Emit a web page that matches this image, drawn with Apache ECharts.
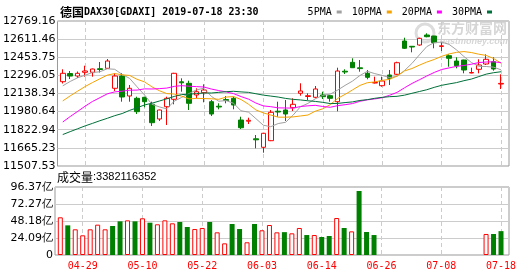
<!DOCTYPE html>
<html><head><meta charset="utf-8">
<script src="https://cdn.jsdelivr.net/npm/echarts@6/dist/echarts.min.js"></script>
<style>html,body{margin:0;padding:0;background:#fff}#c{width:530px;height:276px}</style>
</head><body><div id="c"></div>
<script>
const dates = ['04-24','04-25','04-26','04-29','04-30','05-02','05-03','05-06','05-07','05-08','05-09','05-10','05-13','05-14','05-15','05-16','05-17','05-20','05-21','05-22','05-23','05-24','05-27','05-28','05-29','05-30','05-31','06-03','06-04','06-05','06-06','06-07','06-11','06-12','06-13','06-14','06-17','06-18','06-19','06-20','06-21','06-24','06-25','06-26','06-27','06-28','07-01','07-02','07-03','07-04','07-05','07-08','07-09','07-10','07-11','07-12','07-15','07-16','07-17','07-18'];
const openP = [12241.0,12312.0,12290.6,12322.8,12322.8,12354.1,12357.6,12183.6,12290.6,12116.6,12096.6,12105.2,12044.4,11916.5,12023.5,12087.9,12240.1,12227.1,12125.3,12145.3,12067.0,12027.8,12085.2,12096.6,11907.7,11897.3,11744.2,11670.3,11727.7,11984.3,11994.8,12014.8,12140.1,12112.2,12105.2,12125.3,12119.2,12067.0,12332.3,12409.8,12361.9,12314.1,12229.7,12206.2,12299.3,12305.4,12595.1,12549.0,12560.3,12647.3,12638.6,12548.1,12467.2,12421.1,12429.8,12316.7,12348.9,12395.0,12415.0,12221.0];
const closeP = [12314.1,12290.0,12314.1,12334.1,12351.5,12347.2,12421.1,12290.6,12107.9,12183.6,11980.0,12067.0,11884.3,11994.8,12096.6,12314.1,12231.4,12053.1,12154.0,12168.8,11960.0,12020.8,12078.3,12038.3,11840.7,11905.1,11735.5,11792.1,11974.7,11977.3,11960.0,12044.4,12160.1,12119.2,12177.5,12110.5,12096.6,12334.1,12325.4,12362.8,12355.0,12279.3,12234.0,12247.0,12270.6,12406.3,12531.6,12542.9,12618.6,12632.6,12580.4,12553.4,12444.6,12380.2,12342.8,12321.0,12386.3,12435.9,12351.5,12226.2];
const lowP = [12225.4,12264.5,12273.2,12284.5,12284.5,12321.0,12352.0,12160.1,12067.0,12067.0,11960.0,12018.3,11855.6,11899.1,11864.3,12044.4,12154.0,11994.8,12096.6,12061.8,11942.6,12000.8,12053.1,12000.8,11829.4,11872.9,11661.5,11623.2,11724.0,11936.4,11899.1,11986.0,12119.2,12081.8,12096.6,12090.5,12067.0,11983.4,12308.0,12360.0,12328.0,12261.9,12225.4,12197.5,12212.3,12299.3,12525.5,12496.8,12554.2,12627.3,12531.6,12508.1,12371.5,12357.6,12314.1,12314.1,12314.1,12386.3,12336.7,12177.5];
const highP = [12348.9,12334.1,12329.8,12380.2,12355.0,12412.4,12438.5,12314.1,12316.7,12212.3,12110.5,12110.5,12067.0,11998.0,12110.5,12318.0,12270.6,12249.7,12183.6,12218.4,12081.8,12053.1,12116.6,12110.5,11936.4,11927.8,11777.2,11796.4,11994.8,12067.0,12081.8,12096.6,12227.1,12140.1,12203.6,12154.0,12125.3,12362.8,12348.9,12444.6,12429.8,12342.8,12284.5,12284.5,12342.8,12415.0,12623.8,12551.6,12623.8,12662.1,12640.0,12583.8,12479.4,12453.3,12432.0,12362.8,12435.9,12479.4,12453.3,12305.4];
// volume in 亿 (1e8); null = no bar drawn
const volume = [53.4,42.0,36.4,27.9,36.4,43.0,36.4,41.1,47.7,49.1,47.7,52.0,45.8,43.5,49.1,44.9,46.8,39.7,36.8,38.3,46.8,32.1,16.5,43.9,36.8,18.0,43.9,35.0,42.5,32.1,32.4,30.7,38.3,28.3,28.3,25.5,26.9,52.4,38.3,33.5,90.7,32.6,28.3,null,null,null,null,null,null,null,null,null,null,null,null,null,null,29.8,29.8,33.82];
const volumeUp = [1,0,1,1,1,1,1,0,0,1,0,1,0,1,1,1,0,0,1,1,0,1,1,0,0,1,0,1,1,1,0,1,1,0,1,0,0,1,0,1,0,0,0,0,0,0,0,0,0,0,0,0,0,0,0,0,0,1,0,0];
const ma5 = [12205.2,12243.0,12275.2,12297.5,12320.8,12327.4,12353.6,12348.9,12303.7,12270.1,12196.6,12125.8,12044.6,12021.9,12004.5,12071.4,12104.2,12138.0,12169.8,12184.3,12113.5,12071.3,12076.4,12053.2,11987.6,11976.6,11919.6,11862.3,11849.6,11876.9,11887.9,11949.7,12023.3,12052.2,12092.2,12122.3,12132.8,12167.6,12208.8,12245.9,12294.8,12331.3,12311.3,12295.6,12277.2,12287.4,12337.9,12399.7,12474.0,12546.4,12581.2,12585.6,12565.9,12518.2,12460.3,12408.4,12375.0,12373.2,12367.5,12344.2];
const ma10 = [12073.8,12117.7,12158.6,12198.4,12233.6,12266.3,12298.3,12312.0,12300.6,12295.4,12262.0,12239.7,12196.7,12162.8,12137.3,12134.0,12115.0,12091.3,12095.9,12094.4,12092.4,12087.8,12107.2,12111.5,12086.0,12045.1,11995.5,11969.4,11951.4,11932.3,11932.3,11934.6,11942.8,11950.9,11984.6,12005.1,12041.2,12095.4,12130.5,12169.1,12208.6,12232.1,12239.4,12252.2,12261.5,12291.1,12334.6,12355.5,12384.8,12411.8,12434.3,12461.7,12482.8,12496.1,12503.3,12494.8,12480.3,12469.6,12442.9,12402.2];
const ma20 = [11890.5,11937.7,11982.4,12027.7,12069.0,12102.2,12135.6,12152.4,12158.4,12167.1,12167.9,12178.7,12177.6,12180.6,12185.5,12200.1,12206.7,12201.7,12198.2,12194.9,12177.2,12163.8,12152.0,12137.2,12111.6,12089.5,12055.2,12030.3,12023.7,12013.3,12012.3,12011.2,12025.0,12031.2,12035.3,12025.1,12018.4,12032.4,12041.0,12050.7,12070.4,12083.3,12091.1,12101.6,12123.1,12148.1,12187.9,12225.5,12257.7,12290.4,12321.4,12346.9,12361.1,12374.2,12382.4,12393.0,12407.4,12412.5,12413.8,12407.0];
const ma30 = [11781.2,11806.7,11831.4,11856.3,11878.5,11901.5,11922.6,11945.5,11964.1,11991.4,12014.3,12038.3,12053.9,12072.7,12091.8,12112.8,12128.7,12132.0,12137.6,12142.9,12142.7,12148.4,12154.2,12157.6,12152.3,12148.4,12136.3,12124.2,12116.0,12107.4,12095.6,12087.4,12082.2,12075.1,12069.3,12061.4,12050.6,12052.0,12059.3,12065.3,12077.8,12084.8,12096.5,12104.9,12110.7,12113.8,12123.8,12140.1,12155.6,12171.0,12191.7,12209.5,12221.7,12233.1,12249.8,12263.7,12285.4,12306.8,12319.4,12327.7];
const priceTicks = ['11507.53','11665.23','11822.94','11980.64','12138.34','12296.05','12453.75','12611.46','12769.16'];
const volumeTicks = ['0','24.09亿','48.18亿','72.27亿','96.37亿'];
const labelIdx = [3,11,19,27,35,43,51,59];
const titleName = '德国';
const titleCode = 'DAX30[GDAXI] 2019-07-18 23:30';
const volTitle = '成交量';
const volLast = '3382116352';
const maNames = ['5PMA','10PMA','20PMA','30PMA'];
const maColors = ['#a0a0a0','#f5a300','#ff00ff','#00703a'];

const PMIN = 11507.53, PMAX = 12769.16, PSTEP = (PMAX - PMIN) / 8;
const VMAX = 96.37, VSTEP = VMAX / 4;
const XMIN = -0.71, XMAX = 60.07;
const RED = '#ff0000', GREEN = '#008000';
const chart = echarts.init(document.getElementById('c'), null, {renderer: 'canvas'});

const xCommon = (gi, showLabel) => ({
  type: 'value', gridIndex: gi, min: XMIN, max: XMAX,
  axisLine: {show: false}, axisTick: {show: false, customValues: labelIdx},
  axisLabel: {show: showLabel, customValues: labelIdx, formatter: v => dates[Math.round(v)] || '',
    color: RED, fontFamily: 'DejaVu Sans Mono', fontSize: 10, margin: 6},
  splitLine: {show: true, lineStyle: {color: '#cccccc', type: [4, 3], width: 1}}
});

const maSeries = [ma5, ma10, ma20, ma30].map((arr, k) => ({
  name: maNames[k], type: 'line', xAxisIndex: 0, yAxisIndex: 0,
  data: arr.map((v, i) => [i, v]), showSymbol: false, symbol: 'none',
  lineStyle: {color: maColors[k], width: 1}, itemStyle: {color: maColors[k]},
  z: 5, silent: true
}));

chart.setOption({
  animation: false,
  backgroundColor: '#ffffff',
  title: {
    left: 55, top: 1,
    text: '{a|' + titleName + '}{b|' + titleCode + '}',
    textStyle: {rich: {
      a: {fontFamily: 'Noto Sans CJK SC', fontSize: 12, color: '#000'},
      b: {fontFamily: 'DejaVu Sans Mono', fontSize: 10, color: '#000'}
    }}
  },
  legend: {
    right: 33, top: 2, itemWidth: 5, itemHeight: 3, itemGap: 10, align: 'right',
    textStyle: {fontFamily: 'DejaVu Sans Mono', fontSize: 10, color: '#000'},
    data: maNames.map(n => ({name: n, icon: 'rect'})),
    selectedMode: false
  },
  graphic: [
    {type: 'text', left: 57, top: 171, style: {
      text: '{a|' + volTitle + '}{b|:' + volLast + '}',
      rich: {a: {fontFamily: 'Noto Sans CJK SC', fontSize: 12, fill: '#000'},
             b: {fontFamily: 'Liberation Sans', fontSize: 11, fill: '#000'}}
    }},
    {type: 'circle', shape: {cx: 425, cy: 33, r: 9}, style: {fill: 'none', stroke: '#dcdcdc', lineWidth: 3}, z: 0, silent: true},
    {type: 'text', left: 437, top: 21, z: 0, style: {text: '东方财富网', font: 'bold 14px "Noto Sans CJK SC"', fill: '#d6d6d6'}},
    {type: 'text', left: 440, top: 37, z: 0, style: {text: 'eastmoney.com', font: 'italic bold 9px "Liberation Sans"', fill: '#d6d6d6'}}
  ],
  grid: [
    {left: 55, top: 21, width: 454, height: 145, show: true, borderColor: '#999', borderWidth: 1},
    {left: 55, top: 187, width: 454, height: 68, show: true, borderColor: '#999', borderWidth: 1}
  ],
  xAxis: [xCommon(0, false), xCommon(1, true)],
  yAxis: [
    {type: 'value', gridIndex: 0, min: PMIN, max: PMAX, interval: PSTEP,
     axisLine: {show: false}, axisTick: {show: false},
     splitLine: {lineStyle: {color: '#cccccc', width: 1}},
     axisLabel: {margin: 2, color: '#000', fontFamily: 'DejaVu Sans', fontSize: 11,
       formatter: v => priceTicks[Math.round((v - PMIN) / PSTEP)] || ''}},
    {type: 'value', gridIndex: 1, min: 0, max: VMAX, interval: VSTEP,
     axisLine: {show: false}, axisTick: {show: false},
     splitLine: {lineStyle: {color: '#cccccc', width: 1}},
     axisLabel: {margin: 2, color: '#000', fontFamily: 'DejaVu Sans', fontSize: 11,
       formatter: v => volumeTicks[Math.round(v / VSTEP)] || ''}}
  ],
  series: [
    {
      name: 'K', type: 'candlestick', xAxisIndex: 0, yAxisIndex: 0,
      encode: {x: 0, y: [1, 2, 3, 4]},
      data: dates.map((d, i) => [i, openP[i], closeP[i], lowP[i], highP[i]]),
      barWidth: 5,
      itemStyle: {color: '#ffffff', color0: GREEN, borderColor: RED, borderColor0: GREEN, borderWidth: 1},
      z: 3, silent: true
    },
    ...maSeries,
    {
      name: 'VOL', type: 'bar', xAxisIndex: 1, yAxisIndex: 1, barWidth: 5,
      data: volume.map((v, i) => v == null ? null : {
        value: [i, v],
        itemStyle: volumeUp[i] ? {color: '#ffffff', borderColor: RED, borderWidth: 1} : {color: GREEN}
      }).filter(x => x),
      silent: true
    }
  ]
});
</script></body></html>
